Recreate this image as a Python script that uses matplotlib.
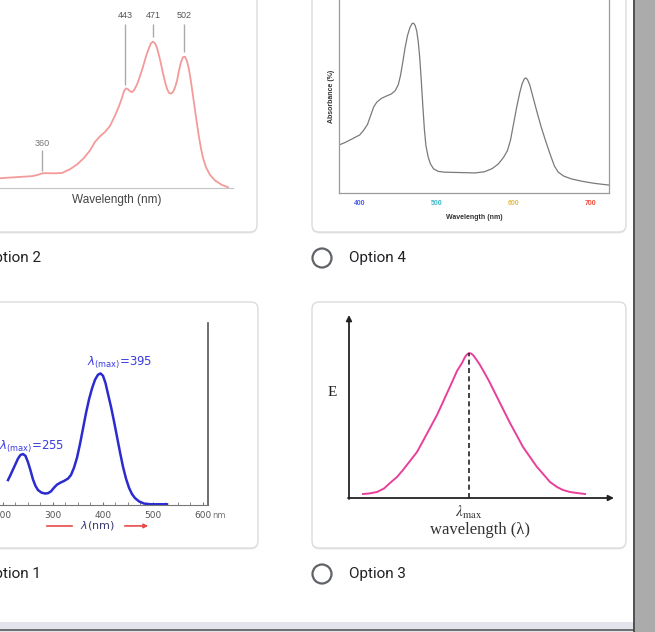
import numpy as np
import matplotlib
matplotlib.use("Agg")
import matplotlib.pyplot as plt
from matplotlib.patches import FancyBboxPatch, Circle, Rectangle

# option 2 : pink absorption spectrum (relative absorbance)
wl_opt2 = [318, 335, 350, 356, 360, 364, 372, 380, 388, 395, 402, 408, 413, 418, 423,
           428, 433, 437, 440, 442, 444, 446, 448, 450, 452, 455, 458, 461, 464, 467,
           469, 471, 473, 475, 477, 479, 481, 483, 485, 487, 489, 491, 493, 495, 497,
           499, 501, 503, 505, 507, 509, 511, 513, 515, 517, 519, 521, 524, 528, 533,
           540, 546]
abs_opt2 = [5.2, 5.8, 6.3, 7.0, 7.8, 7.9, 7.8, 8.0, 10.0, 12.5, 16.0, 20.0, 24.5, 27.5, 29.8,
            33.0, 38.5, 43.5, 48.0, 51.5, 53.0, 52.5, 51.5, 51.0, 52.0, 55.0, 59.5, 64.5, 70.0, 74.5,
            77.0, 77.8, 77.0, 74.5, 70.5, 66.0, 61.0, 56.5, 52.8, 50.6, 50.2, 51.0, 53.5, 57.0, 62.5,
            67.0, 69.6, 69.8, 67.5, 63.0, 56.5, 49.0, 41.5, 34.0, 27.0, 21.0, 16.0, 11.0, 7.0, 4.0,
            1.6, 0.4]
peaks_opt2 = [360, 443, 471, 502]

# option 4 : grey absorption spectrum (%)
wl_opt4 = [373, 380, 390, 400, 405, 410, 414, 418, 422, 428, 435, 441, 446, 450, 453,
           456, 459, 462, 465, 468, 470, 472, 474, 476, 478, 480, 482, 484, 486, 489,
           492, 496, 502, 510, 530, 550, 562, 572, 580, 587, 592, 596, 600, 604, 608,
           611, 614, 616, 618, 621, 625, 630, 636, 642, 648, 653, 658, 665, 675, 690,
           705, 724]
abs_opt4 = [24.9, 26.0, 28.0, 30.1, 32.5, 35.5, 40.0, 44.5, 47.0, 49.0, 50.3, 51.3, 53.0, 56.0, 61.0,
            68.0, 75.5, 81.5, 85.5, 87.8, 88.0, 86.8, 84.0, 78.5, 70.0, 58.0, 45.0, 33.0, 24.5, 18.5,
            15.0, 12.5, 11.2, 10.8, 10.6, 10.4, 11.0, 12.6, 15.0, 18.5, 22.0, 27.5, 36.0, 44.5, 52.0,
            56.5, 59.2, 59.6, 58.8, 56.0, 50.0, 42.5, 34.0, 26.5, 19.5, 14.0, 10.8, 8.8, 7.3, 6.0,
            5.0, 4.1]
ticks_opt4 = [400, 500, 600, 700]
tick_colors_opt4 = ["#4a5cf0", "#3cb8c8", "#e6be4a", "#f0503c"]

# option 1 : blue UV-vis spectrum
wl_opt1 = [210, 215, 220, 225, 230, 235, 240, 245, 250, 255, 260, 265, 270, 277, 284,
           290, 296, 302, 308, 315, 322, 330, 336, 342, 348, 354, 360, 366, 372, 378,
           384, 390, 395, 400, 405, 410, 416, 422, 428, 434, 440, 446, 452, 458, 464,
           472, 482, 495, 528]
abs_opt1 = [13.7, 16.5, 19.5, 22.5, 25.5, 27.5, 28.0, 27.0, 23.5, 19.0, 14.0, 10.5, 8.2, 6.8, 6.3,
            6.5, 7.5, 9.5, 11.2, 12.3, 13.2, 14.5, 16.5, 20.5, 26.0, 33.5, 42.0, 50.5, 58.0, 64.0,
            68.8, 71.6, 72.3, 71.0, 67.0, 61.0, 54.0, 46.0, 37.5, 29.0, 21.0, 14.5, 9.5, 6.0, 3.8,
            2.0, 0.8, 0.4, 0.4]
ticks_opt1 = [200, 300, 400, 500, 600]

# option 3 : emission band E vs wavelength (arbitrary units)
lam_opt3 = [14, 20, 28, 35, 41, 48, 54, 61, 68, 74, 81, 88, 94, 99, 104,
            108, 113, 116, 118, 120, 122, 124, 127, 131, 135, 140, 145, 150, 155, 161,
            167, 174, 181, 188, 195, 201, 208, 214, 221, 228, 236]
e_opt3 = [4, 4.5, 6, 9.5, 15, 21, 28, 37, 46, 57, 70, 83, 96, 107, 118,
          127, 135, 141, 143.5, 145, 144.5, 143, 139, 133, 126, 117, 107, 97, 87, 75,
          64, 51, 41, 31, 23, 16, 11, 8, 6, 5, 4]
lam_max_opt3 = 120

W, H = 655, 632
fig = plt.figure(figsize=(W / 100, H / 100), dpi=100)
fig.patch.set_facecolor("white")


def px_axes(x0, y0, x1, y1):
    ax = fig.add_axes([x0 / W, 1 - y1 / H, (x1 - x0) / W, (y1 - y0) / H])
    ax.patch.set_visible(False)
    return ax


# page background: cards, radio buttons, scrollbar
bg = fig.add_axes([0, 0, 1, 1])
bg.set_xlim(0, W)
bg.set_ylim(H, 0)
bg.axis("off")

cards = [(-12, -12, 257, 232), (312, -12, 626, 232), (-12, 302, 258, 548), (312, 302, 626, 548)]
for x0, y0, x1, y1 in cards:
    bg.add_patch(FancyBboxPatch((x0, y0 + 1.5), x1 - x0, y1 - y0, boxstyle="round,pad=0,rounding_size=7",
                                fc="#e9e9e9", ec="none"))
    bg.add_patch(FancyBboxPatch((x0, y0), x1 - x0, y1 - y0, boxstyle="round,pad=0,rounding_size=7",
                                fc="white", ec="#dcdcdc", lw=1))

options = [(-16, 258, "Option 2", False), (349, 258, "Option 4", True),
           (-16, 574, "Option 1", False), (349, 574, "Option 3", True)]
for x, y, label, radio in options:
    bg.text(x, y, label, fontsize=11, family="Roboto", color="#202124", va="center", ha="left")
    if radio:
        bg.add_patch(Circle((x - 27, y), 9.5, fill=False, ec="#5f6368", lw=1.6))

bg.add_patch(Rectangle((0, 622), 633, 10, fc="#e3e3ec", ec="none"))
bg.plot([0, 633], [629.5, 629.5], color="#5a5a5a", lw=1.2)
bg.add_patch(Rectangle((633, 0), 22, H, fc="#ababab", ec="none"))
bg.plot([633.5, 633.5], [0, H], color="#4a4a4a", lw=1.3)

# ---- option 2 ----
ax = px_axes(0, 0, 233, 188)
ax.plot(wl_opt2, abs_opt2, color="#f49a9a", lw=1.3)
ax.set_xlim(318, 551)
ax.set_ylim(0, 100)
for s in ["top", "left", "right"]:
    ax.spines[s].set_visible(False)
ax.spines["bottom"].set_color("#c4c4c4")
ax.set_xticks([])
ax.set_yticks([])
ax.set_xlabel("Wavelength (nm)", fontsize=8.5, family="Liberation Sans", color="#444", labelpad=4)
for p in peaks_opt2:
    top = np.interp(p, wl_opt2, abs_opt2)
    if p == 360:
        ax.vlines(p, top + 1.2, top + 12.5, color="#aaaaaa", lw=1)
        ax.text(p, top + 16, str(p), fontsize=6.5, family="Liberation Sans", color="#777", ha="center", va="center")
    else:
        ax.vlines(p, top + 2.5, 87.2, color="#aaaaaa", lw=1)
        ax.text(p, 91.5, str(p), fontsize=6.5, family="Liberation Sans", color="#555", ha="center", va="center")

# ---- option 4 ----
ax = px_axes(339, 0, 609, 193)
ax.plot(wl_opt4, abs_opt4, color="#7a7a7a", lw=0.9)
ax.set_xlim(373, 724)
ax.set_ylim(0, 100)
ax.spines["top"].set_visible(False)
for s in ["left", "right", "bottom"]:
    ax.spines[s].set_color("#9a9a9a")
    ax.spines[s].set_linewidth(0.9)
ax.set_yticks([])
ax.set_xticks(ticks_opt4)
ax.tick_params(axis="x", length=0, pad=5, labelsize=5)
for lab, c in zip(ax.get_xticklabels(), tick_colors_opt4):
    lab.set_color(c)
    lab.set_fontweight("bold")
    lab.set_family("Liberation Sans")
ax.set_xlabel("Wavelength (nm)", fontsize=5, fontweight="bold", family="Liberation Sans", color="#333", labelpad=5)
ax.set_ylabel("Absorbance (%)", fontsize=5, fontweight="bold", family="Liberation Sans", color="#333", labelpad=3)

# ---- option 1 ----
ax = px_axes(-10, 323, 208, 505)
ax.plot(wl_opt1, abs_opt1, color="#2b2bd0", lw=1.8)
ax.set_xlim(174, 610)
ax.set_ylim(0, 100)
ax.spines["top"].set_visible(False)
ax.spines["left"].set_visible(False)
ax.spines["bottom"].set_color("#777")
ax.spines["right"].set_color("#555")
ax.spines["right"].set_linewidth(1.2)
ax.set_yticks([])
ax.set_xticks(ticks_opt1)
ax.set_xticks(np.arange(175, 610, 25), minor=True)
ax.tick_params(axis="x", which="both", direction="in", length=2.5, color="#777", labelsize=6.5,
               labelcolor="#555", pad=4)
ax.text(619, -5.8, "nm", fontsize=6, color="#777", ha="left", va="center", clip_on=False)
ax.text(434, 78, r"$\lambda_{\mathrm{(max)}}$=395", fontsize=8.5, color="#3c3ce0", ha="center", va="center")
ax.text(258, 32, r"$\lambda_{\mathrm{(max)}}$=255", fontsize=8.5, color="#3c3ce0", ha="center", va="center")
ax.text(388, -11.5, r"$\lambda$(nm)", fontsize=8, color="#3a3a70", ha="center", va="center")
ax.plot([288, 338], [-11.5, -11.5], color="#e84a4a", lw=1.2, clip_on=False)
ax.annotate("", xy=(496, -11.5), xytext=(438, -11.5), annotation_clip=False,
            arrowprops=dict(arrowstyle="-|>", color="#e84a4a", lw=1.2, mutation_scale=6))

# ---- option 3 ----
ax = px_axes(349, 315, 614, 498)
ax.plot(lam_opt3, e_opt3, color="#e8409a", lw=1.4)
ax.set_xlim(0, 265)
ax.set_ylim(0, 183)
ax.axis("off")
ax.vlines(lam_max_opt3, 0, max(e_opt3), color="#222", lw=1.2, linestyles=(0, (3, 2)))
ax.annotate("", xy=(265, 0), xytext=(-1, 0), annotation_clip=False,
            arrowprops=dict(arrowstyle="-|>", color="#222", lw=1.3, mutation_scale=8, shrinkA=0, shrinkB=0))
ax.annotate("", xy=(0, 183), xytext=(0, -1), annotation_clip=False,
            arrowprops=dict(arrowstyle="-|>", color="#222", lw=1.3, mutation_scale=8, shrinkA=0, shrinkB=0))
ax.text(-17, 106, "E", fontsize=11, family="Liberation Serif", color="#222", ha="center", va="center")
ax.text(lam_max_opt3, -14, r"$\lambda_{\mathrm{max}}$", fontsize=11, math_fontfamily="stix",
        color="#333", ha="center", va="center")
ax.text(131, -32, "wavelength (λ)", fontsize=12, family="Liberation Serif", color="#333",
        ha="center", va="center")

fig.savefig("out.png", dpi=100)
